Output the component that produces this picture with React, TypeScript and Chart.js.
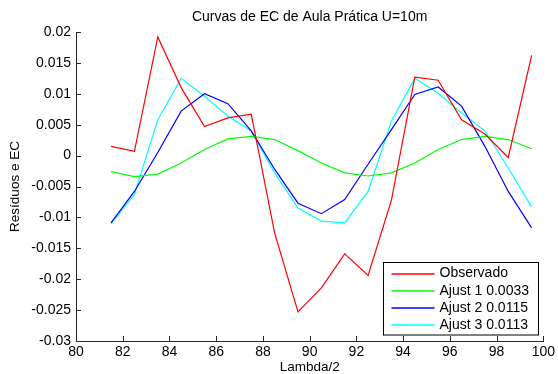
import React, { useEffect, useRef } from "react";
import { Chart, registerables } from "chart.js";

Chart.register(...registerables);

const lambdaHalf = [81.5, 82.5, 83.5, 84.5, 85.5, 86.5, 87.5, 88.5, 89.5, 90.5, 91.5, 92.5, 93.5, 94.5, 95.5, 96.5, 97.5, 98.5, 99.5];
const observado = [0.0015, 0.0007, 0.0192, 0.011, 0.0047, 0.0061, 0.0067, -0.0125, -0.0253, -0.0214, -0.0159, -0.0194, -0.0072, 0.0127, 0.0122, 0.0058, 0.0035, -0.0003, 0.0162];
const ajust1 = [-0.0026, -0.0034, -0.003, -0.0012, 0.001, 0.0027, 0.0031, 0.0026, 0.0008, -0.0012, -0.0028, -0.0033, -0.0028, -0.0012, 0.001, 0.0026, 0.0031, 0.0026, 0.0011];
const ajust2 = [-0.0109, -0.0058, 0.0005, 0.0072, 0.01, 0.0084, 0.004, -0.0022, -0.0077, -0.0094, -0.0071, -0.0014, 0.0042, 0.0099, 0.0111, 0.008, 0.0015, -0.0058, -0.0117];
const ajust3 = [-0.011, -0.0063, 0.0058, 0.0125, 0.0096, 0.0064, 0.004, -0.0028, -0.0085, -0.0106, -0.0109, -0.0058, 0.0056, 0.0125, 0.0101, 0.0069, 0.004, -0.002, -0.0083];

const seriesLabels = ["Observado", "Ajust 1 0.0033", "Ajust 2 0.0115", "Ajust 3 0.0113"];
const seriesColors = ["#ff0000", "#00ff00", "#0000ff", "#00ffff"];
const titleText = "Curvas de EC de Aula Prática U=10m";
const xTitle = "Lambda/2";
const yTitle = "Resíduos e EC";

const FONT = "'Liberation Sans', Arial, sans-serif";

const toPoints = (ys: number[]) => lambdaHalf.map((x, i) => ({ x, y: ys[i] }));

const matlabPlugin = {
  id: "matlabDecor",
  beforeDraw(chart: any) {
    const ctx = chart.ctx;
    ctx.save();
    ctx.fillStyle = "#ffffff";
    ctx.fillRect(0, 0, chart.width, chart.height);
    ctx.restore();
  },
  afterDraw(chart: any) {
    const ctx = chart.ctx;
    const area = chart.chartArea;
    const xs = chart.scales.x;
    const ys = chart.scales.y;
    ctx.save();
    // inward ticks
    ctx.strokeStyle = "#262626";
    ctx.lineWidth = 1;
    ctx.beginPath();
    xs.ticks.forEach((t: any) => {
      const px = Math.round(xs.getPixelForValue(t.value)) + 0.5;
      ctx.moveTo(px, area.bottom);
      ctx.lineTo(px, area.bottom - 5);
    });
    ys.ticks.forEach((t: any) => {
      const py = Math.round(ys.getPixelForValue(t.value)) + 0.5;
      ctx.moveTo(area.left, py);
      ctx.lineTo(area.left + 5, py);
    });
    ctx.stroke();

    // titles
    ctx.fillStyle = "#000000";
    ctx.textAlign = "center";
    ctx.textBaseline = "middle";
    ctx.font = `14px ${FONT}`;
    ctx.fillText(titleText, (area.left + area.right) / 2, 17);
    ctx.font = `13.5px ${FONT}`;
    ctx.fillText(xTitle, (area.left + area.right) / 2, 367);
    ctx.save();
    ctx.translate(15, (area.top + area.bottom) / 2);
    ctx.rotate(-Math.PI / 2);
    ctx.fillText(yTitle, 0, 0);
    ctx.restore();

    // legend box
    const bx = 383.5, by = 262.5, bw = 155, bh = 72.5;
    ctx.fillStyle = "#ffffff";
    ctx.fillRect(bx, by, bw, bh);
    ctx.strokeStyle = "#000000";
    ctx.lineWidth = 1;
    ctx.strokeRect(bx, by, bw, bh);
    ctx.font = `14px ${FONT}`;
    ctx.textAlign = "left";
    chart.data.datasets.forEach((ds: any, i: number) => {
      const ry = 273.5 + i * 17.2;
      ctx.strokeStyle = seriesColors[i];
      ctx.lineWidth = 1.5;
      ctx.beginPath();
      ctx.moveTo(391.5, Math.round(ry));
      ctx.lineTo(434.5, Math.round(ry));
      ctx.stroke();
      ctx.fillStyle = "#000000";
      ctx.fillText(ds.label, 439.5, ry);
    });
    ctx.restore();
  },
};

export default function App() {
  const ref = useRef<HTMLCanvasElement | null>(null);
  useEffect(() => {
    if (!ref.current) return;
    const seriesData = [observado, ajust1, ajust2, ajust3];
    const chart = new Chart(ref.current, {
      type: "line",
      data: {
        datasets: seriesData.map((d, i) => ({
          label: seriesLabels[i],
          data: toPoints(d),
          borderColor: seriesColors[i],
          backgroundColor: seriesColors[i],
          borderWidth: 1.2,
          pointRadius: 0,
          tension: 0,
          fill: false,
        })),
      },
      options: {
        animation: false,
        responsive: false,
        maintainAspectRatio: false,
        devicePixelRatio: 1,
        layout: { padding: { top: 32, left: 0, right: 11, bottom: 0 } },
        plugins: {
          legend: { display: false },
          title: { display: false },
          tooltip: { enabled: false },
        },
        scales: {
          x: {
            type: "linear",
            min: 80,
            max: 100,
            afterFit: (s: any) => { s.height = 33; },
            grid: { display: true, drawOnChartArea: false, drawTicks: false },
            border: { display: true, color: "#262626", width: 1 },
            ticks: {
              stepSize: 2,
              padding: 3,
              color: "#000000",
              maxRotation: 0,
              font: { family: FONT, size: 14 },
              callback: (v: any) => String(v),
            },
          },
          y: {
            type: "linear",
            min: -0.03,
            max: 0.02,
            afterFit: (s: any) => { s.width = 76; },
            grid: { display: true, drawOnChartArea: false, drawTicks: false },
            border: { display: true, color: "#262626", width: 1 },
            ticks: {
              stepSize: 0.005,
              padding: 5,
              color: "#000000",
              font: { family: FONT, size: 14 },
              callback: (v: any) => String(Number(Number(v).toFixed(4))),
            },
          },
        },
      },
      plugins: [matlabPlugin],
    });
    return () => chart.destroy();
  }, []);
  return (
    <div style={{ position: "fixed", left: 0, top: 0, width: 558, height: 374, background: "#fff" }}>
      <canvas ref={ref} width={558} height={374} style={{ display: "block", width: 558, height: 374 }} />
    </div>
  );
}
